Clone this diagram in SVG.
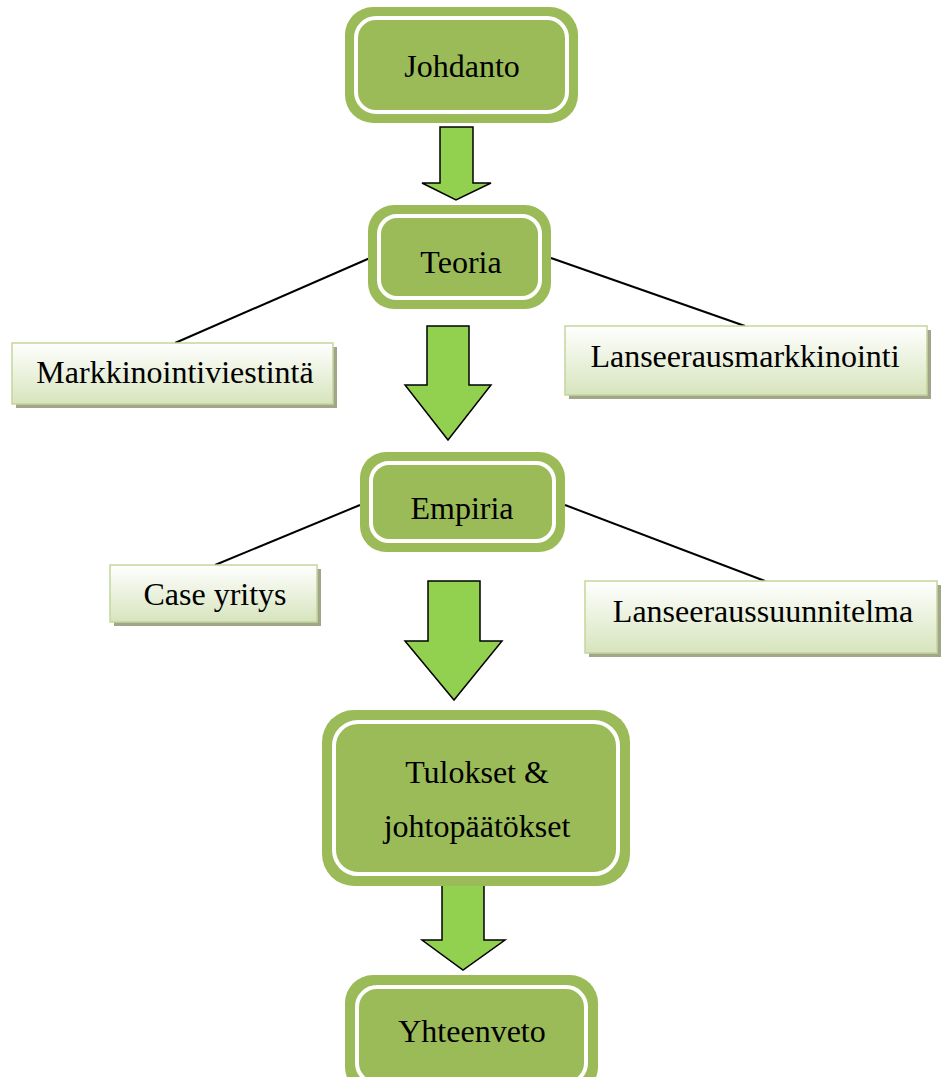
<svg xmlns="http://www.w3.org/2000/svg" width="941" height="1077" viewBox="0 0 941 1077">
<style>
.outer{fill:#9BBB59}
.inner{fill:#9BBB59;stroke:#ffffff;stroke-width:4}
.t{font-family:"Liberation Serif","Times New Roman",serif;font-size:32px;fill:#000;text-anchor:middle}
.side{fill:url(#g);stroke:#C3D69B;stroke-width:1.5}
.shadow{fill:#A2A58A}
.arrow{fill:#92D050;stroke:#000;stroke-width:1.5;stroke-linejoin:miter}
.conn{stroke:#000;stroke-width:2;fill:none}
</style>
<defs>
<linearGradient id="g" x1="0" y1="0" x2="0" y2="1">
<stop offset="0" stop-color="#ffffff"/>
<stop offset="1" stop-color="#D7E4BD"/>
</linearGradient>
</defs>
<rect width="941" height="1077" fill="#fff"/>
<g id="connectors">
<line class="conn" x1="370" y1="258" x2="175" y2="343"/>
<line class="conn" x1="551" y1="258" x2="745" y2="326"/>
<line class="conn" x1="360" y1="505" x2="215" y2="565"/>
<line class="conn" x1="565" y1="505" x2="765" y2="581"/>
<polygon class="arrow" points="440,127 473,127 473,183 491,183 456,200 422,183 440,183"/>
<polygon class="arrow" points="427,326 469,326 469,385 491,385 448,440 405,385 427,385"/>
<polygon class="arrow" points="428,581 480,581 480,641 502,641 454,700 405,641 428,641"/>
<polygon class="arrow" points="442,885 484,885 484,940 505,940 463,970 422,940 442,940"/>
</g>
<g id="johdanto">
<rect class="outer" x="345" y="7" width="233" height="116" rx="28"/>
<rect class="inner" x="356" y="18" width="211" height="94" rx="20"/>
<text class="t" x="462" y="77">Johdanto</text>
</g>
<g id="teoria">
<rect class="outer" x="368" y="205" width="183" height="104" rx="26"/>
<rect class="inner" x="379" y="216" width="161" height="82" rx="18"/>
<text class="t" x="461" y="273">Teoria</text>
</g>
<g id="empiria">
<rect class="outer" x="360" y="452" width="205" height="100" rx="26"/>
<rect class="inner" x="371" y="463" width="183" height="78" rx="18"/>
<text class="t" x="462" y="519">Empiria</text>
</g>
<g id="tulokset">
<rect class="outer" x="322" y="710" width="308" height="176" rx="32"/>
<rect class="inner" x="334" y="722" width="284" height="152" rx="24"/>
<text class="t" x="477" y="783">Tulokset &amp;</text>
<text class="t" x="477" y="837">johtopäätökset</text>
</g>
<g id="yhteenveto">
<rect class="outer" x="345" y="975" width="253" height="120" rx="28"/>
<rect class="inner" x="357" y="987" width="229" height="96" rx="20"/>
<text class="t" x="472" y="1042">Yhteenveto</text>
</g>
<g id="markkinointiviestinta">
<rect class="shadow" x="16" y="347" width="321" height="61"/>
<rect class="side" x="12" y="343" width="321" height="61"/>
<text class="t" x="175" y="383">Markkinointiviestintä</text>
</g>
<g id="lanseerausmarkkinointi">
<rect class="shadow" x="569" y="330" width="362" height="69"/>
<rect class="side" x="565" y="326" width="362" height="69"/>
<text class="t" x="745" y="367">Lanseerausmarkkinointi</text>
</g>
<g id="case">
<rect class="shadow" x="114" y="569" width="207" height="57"/>
<rect class="side" x="110" y="565" width="207" height="57"/>
<text class="t" x="215" y="605">Case yritys</text>
</g>
<g id="lanseeraussuunnitelma">
<rect class="shadow" x="589" y="585" width="352" height="72"/>
<rect class="side" x="585" y="581" width="352" height="72"/>
<text class="t" x="763" y="622">Lanseeraussuunnitelma</text>
</g>
</svg>
